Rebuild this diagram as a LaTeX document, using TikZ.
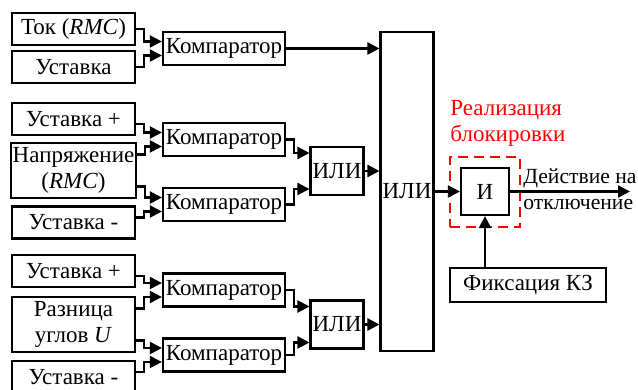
\documentclass[tikz,border=0pt]{standalone}
\usepackage{fontspec}
\setmainfont{Liberation Serif}
\usepackage{xcolor}
\usepackage{tikz}
\usetikzlibrary{arrows.meta, positioning}
\definecolor{blockred}{HTML}{FF0000}

\begin{document}
\begin{tikzpicture}[
  x=0.5pt, y=-0.5pt,
  every node/.style = {font=\fontsize{11.5pt}{13pt}\selectfont},
  inbox/.style = {
    rectangle, draw, line width=1.1pt,
    minimum width=61.5pt, minimum height=16pt,
    inner sep=1pt, align=center
  },
  inbig/.style = {inbox, minimum height=27.5pt},
  cmpbox/.style = {
    rectangle, draw, line width=1.1pt,
    minimum width=61pt, minimum height=16.5pt, inner sep=1pt
  },
  gate/.style = {
    rectangle, draw, line width=1.1pt,
    minimum width=24pt, minimum height=24pt, inner sep=1pt
  },
  redbox/.style = {
    rectangle, draw=blockred, line width=1.1pt,
    dash pattern=on 5pt off 3pt,
    minimum width=35pt, minimum height=35pt
  },
  arr/.style = {-{Triangle[length=6pt, width=6pt]}, line width=1.1pt}
]
  \clip (0,0) rectangle (638,390);

  % inputs
  \node[inbox] (in1) at (73.5,29)    {Ток (\textit{RMC})};
  \node[inbox] (in2) at (73.5,67)    {Уставка};
  \node[inbox] (in3) at (73.5,119)   {Уставка +};
  \node[inbig] (in4) at (73.5,170.5) {Напряжение\\(\textit{RMC})};
  \node[inbox] (in5) at (73.5,222.5) {Уставка -};
  \node[inbox] (in6) at (73.5,271)   {Уставка +};
  \node[inbig] (in7) at (73.5,324.5) {Разница\\углов \textit{U}};
  \node[inbox] (in8) at (73.5,377)   {Уставка -};

  % comparators
  \node[cmpbox] (cmp1) at (224,48.5)  {Компаратор};
  \node[cmpbox] (cmp2) at (224,139.5) {Компаратор};
  \node[cmpbox] (cmp3) at (224,204.5) {Компаратор};
  \node[cmpbox] (cmp4) at (224,290)   {Компаратор};
  \node[cmpbox] (cmp5) at (224,355)   {Компаратор};

  % logic
  \node[gate] (or1) at (337,171)   {ИЛИ};
  \node[gate] (or2) at (337,324.5) {ИЛИ};
  \node[gate, minimum height=159.5pt] (bigor) at (407,191.5) {ИЛИ};
  \node[gate, minimum height=23.5pt] (and) at (485,191.5) {И};
  \node[redbox] (blk) at (485,192) {};
  \node[gate, minimum width=78pt, minimum height=17pt] (fix) at (528,285) {Фиксация КЗ};
  \coordinate (out) at (630,191.5);

  \node[text=blockred, align=left, anchor=north west, inner sep=0pt]
    (blklabel) at (450,100) {Реализация\\блокировки};
  \node[align=left, anchor=north west, inner sep=0pt,
    font=\fontsize{10.8pt}{13pt}\selectfont]
    (outlabel) at (523,168) {Действие на\\отключение};

  % inputs to comparators
  \draw[arr] (in1.east) -- ++(4pt,0) |- ([yshift=3.5pt]cmp1.west);
  \draw[arr] (in2.east) -- ++(4pt,0) |- ([yshift=-3.5pt]cmp1.west);
  \draw[arr] ([yshift=-2.5pt]in3.east) -- ++(4pt,0) |- ([yshift=3.5pt]cmp2.west);
  \draw[arr] ([yshift=8pt]in4.east) -- ++(4pt,0) |- ([yshift=-3.5pt]cmp2.west);
  \draw[arr] ([yshift=-8pt]in4.east) -- ++(4pt,0) |- ([yshift=3.5pt]cmp3.west);
  \draw[arr] ([yshift=2.5pt]in5.east) -- ++(4pt,0) |- ([yshift=-3.5pt]cmp3.west);
  \draw[arr] ([yshift=-2.5pt]in6.east) -- ++(4pt,0) |- ([yshift=3.5pt]cmp4.west);
  \draw[arr] ([yshift=8pt]in7.east) -- ++(4pt,0) |- ([yshift=-3.5pt]cmp4.west);
  \draw[arr] ([yshift=-8pt]in7.east) -- ++(4pt,0) |- ([yshift=3.5pt]cmp5.west);
  \draw[arr] ([yshift=2.5pt]in8.east) -- ++(4pt,0) |- ([yshift=-3.5pt]cmp5.west);

  % comparators to OR
  \draw[arr] (cmp1.east) -- (cmp1.east -| bigor.west);
  \draw[arr] (cmp2.east) -- ++(4pt,0) |- ([yshift=9pt]or1.west);
  \draw[arr] (cmp3.east) -- ++(4pt,0) |- ([yshift=-9pt]or1.west);
  \draw[arr] (cmp4.east) -- ++(4pt,0) |- ([yshift=9pt]or2.west);
  \draw[arr] (cmp5.east) -- ++(4pt,0) |- ([yshift=-9pt]or2.west);
  \draw[arr] (or1.east) -- (or1.east -| bigor.west);
  \draw[arr] (or2.east) -- (or2.east -| bigor.west);

  % blocking
  \draw[arr] (bigor.east |- and.west) -- (and.west);
  \draw[arr] (and.east) -- (out);
  \draw[arr] (fix.north -| and.south) -- (and.south);
\end{tikzpicture}
\end{document}
